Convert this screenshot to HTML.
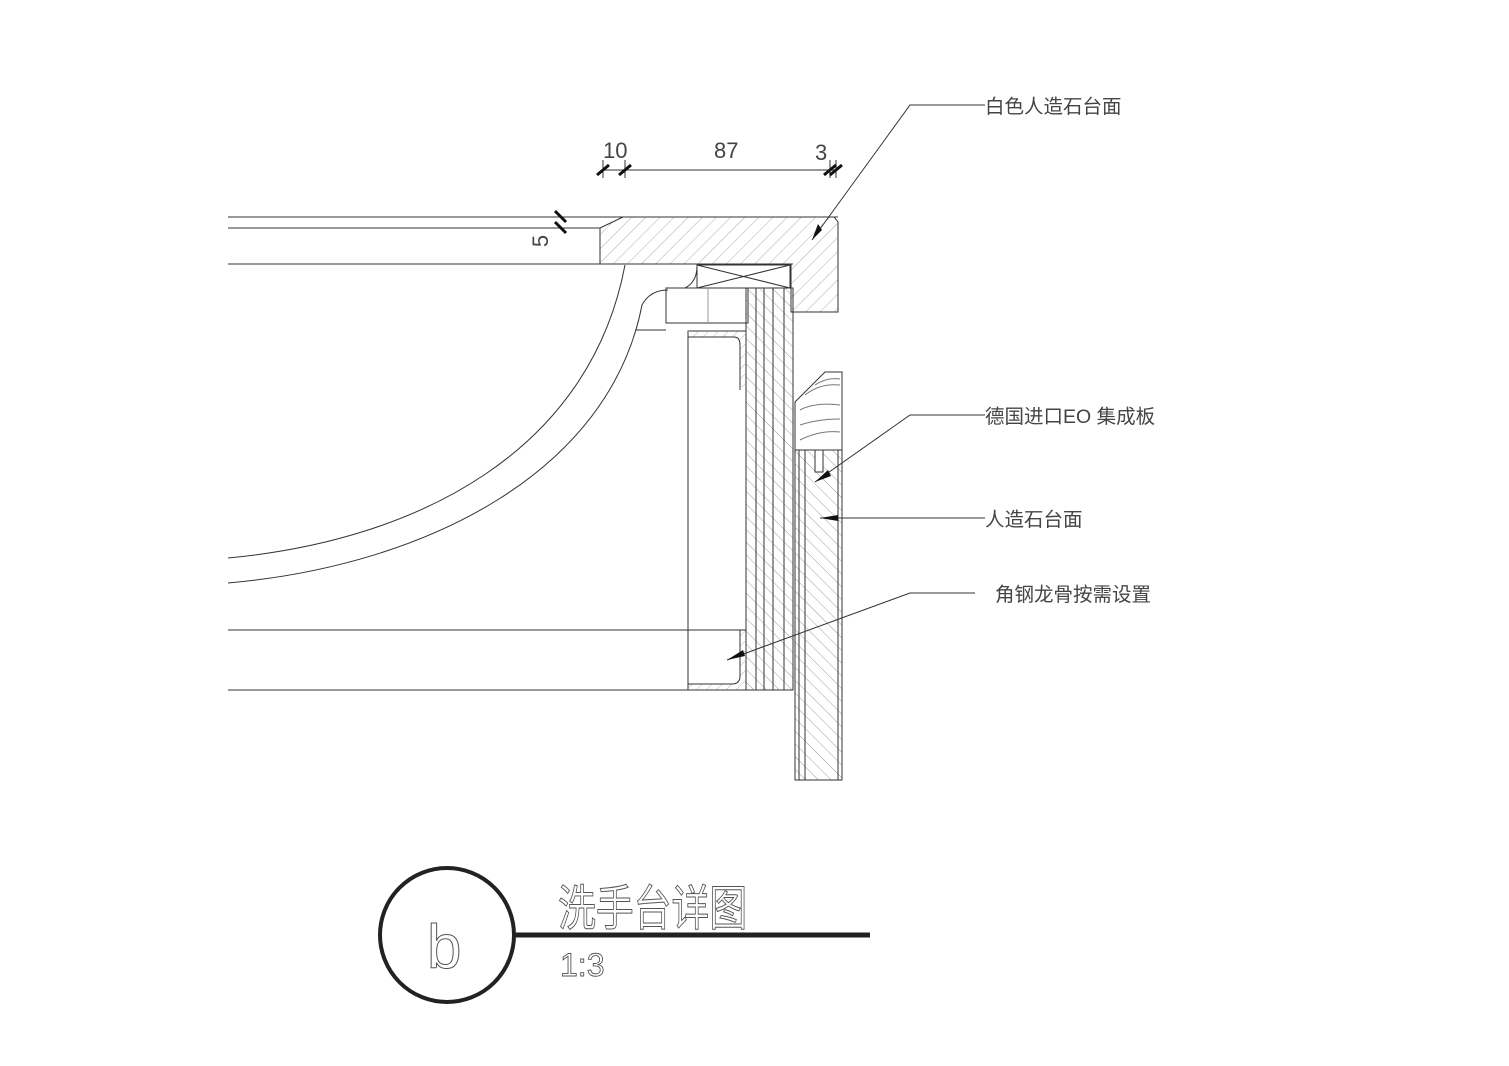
<!DOCTYPE html>
<html><head><meta charset="utf-8"><style>
html,body{margin:0;padding:0;background:#fff;}
svg{display:block}
text{font-family:"Liberation Sans","Noto Sans CJK SC",sans-serif;}
</style></head><body>
<svg width="1509" height="1066" viewBox="0 0 1509 1066" xmlns="http://www.w3.org/2000/svg">
<defs>
<pattern id="h1" patternUnits="userSpaceOnUse" width="10" height="10" patternTransform="rotate(45)">
<line x1="0" y1="0" x2="0" y2="10" stroke="#999" stroke-width="0.8"/></pattern>
<pattern id="h2" patternUnits="userSpaceOnUse" width="9" height="9" patternTransform="rotate(-45)">
<line x1="0" y1="0" x2="0" y2="9" stroke="#888" stroke-width="0.8"/></pattern>
<pattern id="h3" patternUnits="userSpaceOnUse" width="7" height="7" patternTransform="rotate(45)">
<line x1="0" y1="0" x2="0" y2="7" stroke="#999" stroke-width="0.7"/></pattern>
</defs>
<g fill="none" stroke="#333" stroke-width="1">
<line x1="228" y1="217" x2="838" y2="217"/>
<line x1="228" y1="228" x2="600" y2="228"/>
<line x1="228" y1="264" x2="793" y2="264"/>
<path d="M600,228 L623,217 L834,217 L838,222 L838,312 L791,312 L791,264 L600,264 Z" fill="url(#h1)"/>
<rect x="697" y="265" width="93" height="23"/>
<line x1="697" y1="265" x2="790" y2="288"/><line x1="697" y1="288" x2="790" y2="265"/>
<rect x="666" y="288" width="82" height="35"/>
<line x1="708" y1="288" x2="708" y2="323" stroke="#999"/>
<rect x="746" y="288" width="47" height="402" fill="url(#h2)"/>
<line x1="756" y1="288" x2="756" y2="690"/><line x1="764" y1="288" x2="764" y2="690"/>
<line x1="773" y1="288" x2="773" y2="690"/><line x1="784" y1="288" x2="784" y2="690"/>
<path d="M688,331 L746,331 L746,690 L688,690 Z"/>
<rect x="688" y="331" width="58" height="6" fill="url(#h3)" stroke="none"/>
<rect x="740" y="337" width="6" height="50" fill="url(#h3)" stroke="none"/>
<rect x="740" y="630" width="6" height="54" fill="url(#h3)" stroke="none"/>
<rect x="688" y="684" width="58" height="6" fill="url(#h3)" stroke="none"/>
<path d="M688,337 L734,337 Q740,337 740,345 L740,390"/>
<path d="M688,684 L732,684 Q740,684 740,676 L740,630"/>
<line x1="228" y1="630" x2="746" y2="630"/>
<line x1="228" y1="690" x2="793" y2="690"/>
<path d="M228,558 C420,540 590,450 625,265"/>
<path d="M228,583 C430,565 610,470 642,305 Q650,290 668,290"/>
<line x1="636" y1="330" x2="666" y2="330"/>
<path d="M685,288 Q697,282 697,266"/>
<path d="M795,402 L825,372 L842,372 L842,450 L795,450 Z"/>
<path d="M800,410 q15,-8 40,-5 M800,425 q18,-6 40,-6 M800,440 q20,-10 40,-8 M805,395 q15,-12 35,-10 M815,385 q12,-8 25,-6" stroke="#777"/>
<rect x="795" y="450" width="47" height="330" fill="url(#h2)"/>
<line x1="799" y1="450" x2="799" y2="780"/><line x1="805" y1="450" x2="805" y2="780"/>
<line x1="838" y1="450" x2="838" y2="780"/>
<rect x="815" y="450" width="8" height="22" fill="#fff"/>
<polyline points="985,105 910,105 812,240"/>
<polyline points="985,415 910,415 815,482"/>
<line x1="985" y1="518" x2="820" y2="518"/>
<polyline points="975,593 910,593 727,660"/>
<line x1="603" y1="170" x2="838" y2="170"/>
<line x1="603" y1="160" x2="603" y2="178"/><line x1="625" y1="160" x2="625" y2="178"/>
<line x1="830" y1="160" x2="830" y2="178"/><line x1="836" y1="160" x2="836" y2="178"/>
</g>
<g stroke="#111" stroke-width="3">
<line x1="597" y1="175" x2="609" y2="165"/><line x1="619" y1="175" x2="631" y2="165"/>
<line x1="824" y1="175" x2="836" y2="165"/><line x1="830" y1="175" x2="842" y2="165"/>
<line x1="555" y1="211" x2="566" y2="222"/><line x1="555" y1="222" x2="566" y2="233"/>
</g>
<g fill="#111">
<polygon points="812,240 818,224 822,230"/>
<polygon points="815,482 828,470 831,476"/>
<polygon points="820,518 838,515 838,521"/>
<polygon points="727,660 743,650 745,656"/>
</g>
<g fill="#444" font-size="22">
<text x="603" y="158">10</text>
<text x="714" y="158">87</text>
<text x="815" y="160">3</text>
<text transform="translate(548,241) rotate(-90)" text-anchor="middle" x="0" y="0">5</text>
</g>
<g fill="#444" font-size="19.5">
<text x="985" y="113">白色人造石台面</text>
<text x="985" y="423">德国进口EO  集成板</text>
<text x="985" y="526">人造石台面</text>
<text x="995" y="601">角钢龙骨按需设置</text>
</g>
<circle cx="447" cy="935" r="67" fill="none" stroke="#222" stroke-width="4"/>
<line x1="514" y1="935" x2="870" y2="935" stroke="#222" stroke-width="5"/>
<text x="427" y="968" font-size="62" fill="none" stroke="#555" stroke-width="1" font-family="Liberation Serif,serif">b</text>
<text transform="translate(558,925) scale(0.86,1.1)" font-size="44" fill="none" stroke="#555" stroke-width="0.9">洗手台详图</text>
<text x="560" y="976" font-size="32" fill="none" stroke="#555" stroke-width="0.9" font-family="Liberation Serif,serif">1:3</text>
</svg>
</body></html>
